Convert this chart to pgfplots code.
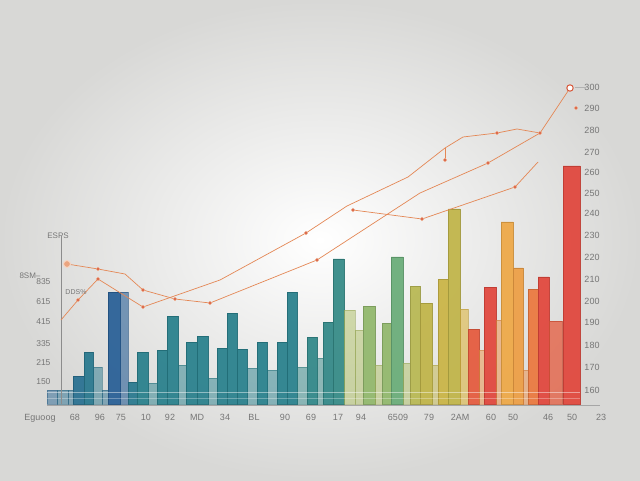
\documentclass[border=0pt]{standalone}
\usepackage{pgfplots}
\pgfplotsset{compat=1.18}
\usepackage{fontspec}
\setmainfont{Liberation Sans}
\definecolor{txt}{RGB}{118,118,118}
\definecolor{lin}{RGB}{228,135,85}
\definecolor{mk}{RGB}{215,85,55}
\definecolor{bg}{RGB}{216,216,214}
\definecolor{c0}{RGB}{40,95,150}
\definecolor{c1}{RGB}{40,112,145}
\definecolor{c2}{RGB}{40,128,140}
\definecolor{c3}{RGB}{60,145,130}
\definecolor{c4}{RGB}{105,172,120}
\definecolor{c5}{RGB}{172,190,98}
\definecolor{c6}{RGB}{192,180,72}
\definecolor{c7}{RGB}{218,180,65}
\definecolor{c8}{RGB}{238,168,70}
\definecolor{c9}{RGB}{235,120,62}
\definecolor{c10}{RGB}{225,70,60}
% bar: left edge, right edge, height, colour, opacity
\newcommand{\bb}[5]{\addplot[fill=#4, draw=#4!85!black, line width=0.3pt, fill opacity=#5, draw opacity=#5] coordinates {(#1,0) (#1,#3) (#2,#3) (#2,0)} \closedcycle;}
\def\L{0.5}
\def\D{0.93}
\begin{document}
\begin{tikzpicture}
\shade[inner color=white, outer color=bg] (0,0) rectangle (640pt,480pt);
\begin{axis}[at={(30pt,75pt)}, anchor=south west, scale only axis,
  width=580pt, height=331pt, xmin=30, xmax=610, ymin=-1, ymax=330,
  clip=false, axis x line*=bottom, axis y line*=right,
  x axis line style={draw=none},
  y axis line style={draw=none},
  major tick length=0pt,
  xtick={40,75,100,121,146,170,197,225,254,285,311,338,361,398,429,460,491,513,548,572,601},
  xticklabels={Eguoog,68,96,75,10,92,MD,34,BL,90,69,17,94,6509,79,2AM,60,50,46,50,23},
  xticklabel style={font=\fontsize{9}{10}\selectfont, text=txt, yshift=-6pt},
  ytick={14,37,59,82,103,125,147,169,191,211,232,252,274,296,317},
  yticklabels={160,170,180,190,200,210,220,230,240,250,260,270,280,290,300},
  yticklabel style={font=\fontsize{9}{10}\selectfont, text=txt, anchor=center, xshift=-18pt},
]
\bb{47}{57}{14}{c0!60!c1}{\L}
\bb{57}{68}{14}{c1}{\L}
\bb{68}{73}{14}{c1}{\L}
\bb{73}{84}{28}{c1}{\D}
\bb{84}{93}{52}{c1!50!c2}{\D}
\bb{93}{102}{37}{c1!50!c2}{\L}
\bb{102}{108}{14}{c1}{\L}
\bb{108}{120}{112}{c0}{\D}
\bb{120}{128}{112}{c0}{0.6}
\bb{128}{137}{22}{c1!50!c2}{\D}
\bb{137}{148}{52}{c2}{\D}
\bb{148}{157}{21}{c2}{\L}
\bb{157}{167}{54}{c2}{\D}
\bb{167}{178}{88}{c2}{\D}
\bb{178}{186}{39}{c2}{\L}
\bb{186}{197}{62}{c2}{\D}
\bb{197}{208}{68}{c2}{\D}
\bb{208}{217}{26}{c2}{\L}
\bb{217}{227}{56}{c2}{\D}
\bb{227}{237}{91}{c2}{\D}
\bb{237}{247}{55}{c2}{\D}
\bb{247}{257}{36}{c2}{\L}
\bb{257}{267}{62}{c2}{\D}
\bb{267}{277}{34}{c2}{\L}
\bb{277}{287}{62}{c2}{\D}
\bb{287}{297}{112}{c2}{\D}
\bb{297}{307}{37}{c2!60!c3}{\L}
\bb{307}{317}{67}{c2!60!c3}{\D}
\bb{317}{323}{46}{c2!50!c3}{\L}
\bb{323}{333}{82}{c2!50!c3}{\D}
\bb{333}{344}{145}{c2!40!c3}{\D}
\bb{344}{355}{94}{c5}{\L}
\bb{355}{363}{74}{c5}{\L}
\bb{363}{375}{98}{c5!60!c4}{\D}
\bb{375}{382}{39}{c5}{\L}
\bb{382}{391}{81}{c5!60!c4}{\D}
\bb{391}{403}{147}{c4}{\D}
\bb{403}{410}{41}{c5}{\L}
\bb{410}{420}{118}{c5!40!c6}{\D}
\bb{420}{432}{101}{c6}{\D}
\bb{432}{438}{39}{c6}{\L}
\bb{438}{448}{125}{c6!60!c7}{\D}
\bb{448}{460}{195}{c6}{\D}
\bb{460}{468}{95}{c7}{0.6}
\bb{468}{479}{75}{c9!40!c10}{\D}
\bb{479}{484}{54}{c8!50!c9}{\L}
\bb{484}{496}{117}{c10}{\D}
\bb{496}{501}{84}{c8!40!c9}{\L}
\bb{501}{513}{182}{c8}{\D}
\bb{513}{523}{136}{c8!80!c9}{\D}
\bb{523}{528}{34}{c8!40!c9}{\L}
\bb{528}{538}{115}{c9}{\D}
\bb{538}{549}{127}{c10}{\D}
\bb{549}{562}{83}{c9!40!c10}{0.75}
\bb{563}{580}{238}{c10}{\D}
\addplot[white, opacity=0.45, line width=0.6pt] coordinates {(47,12) (580,12)};
\addplot[white, opacity=0.3, line width=0.6pt] coordinates {(47,6) (580,6)};
\addplot[black!35, line width=0.8pt] coordinates {(47,-1) (600,-1)};
\addplot[black!45, line width=0.6pt] coordinates {(61,0) (61,168)};
% lines
\addplot[lin, line width=0.7pt] coordinates {(61,84) (78,104) (98,125) (143,97) (220,124) (306,171) (347,198) (408,227) (445,256) (463,267) (497,271) (517,275) (540,271) (570,316)};
\addplot[lin, line width=0.7pt] coordinates {(67,140) (98,135) (125,130) (143,114) (175,105) (210,101) (317,144) (420,211) (488,241) (540,271)};
\addplot[lin, line width=0.7pt] coordinates {(353,194) (422,185) (515,217) (538,242)};
\addplot[lin, line width=0.7pt] coordinates {(445,256) (445,244)};
\addplot[black!30, line width=0.5pt] coordinates {(575,317) (586,317)};
% markers
\addplot[only marks, mark=*, mark size=1.8pt, mark options={fill=mk, draw=lin!60, line width=0.6pt}] coordinates {(78,104) (98,125) (143,97) (306,171) (353,194) (497,271) (540,271) (98,135) (143,114) (175,105) (210,101) (317,144) (488,241) (422,185) (515,217) (445,244) (576,296)};
\addplot[only marks, mark=*, mark size=3.2pt, mark options={fill=white, draw=mk, line width=1pt}] coordinates {(570,316)};
\addplot[only marks, mark=*, mark size=3.5pt, mark options={fill=lin!75, draw=lin!35, line width=1pt}] coordinates {(67,140)};
% left axis texts
\node[font=\fontsize{8}{9}\selectfont, text=txt] at (axis cs:58,168) {ESPS};
\node[font=\fontsize{8}{9}\selectfont, text=txt] at (axis cs:30,128) {8SM--};
\node[font=\fontsize{7}{8}\selectfont, text=txt] at (axis cs:76,112) {DDS\%};
\node[font=\fontsize{8.5}{9}\selectfont, text=txt, anchor=east] at (axis cs:54,122) {835};
\node[font=\fontsize{8.5}{9}\selectfont, text=txt, anchor=east] at (axis cs:54,102) {615};
\node[font=\fontsize{8.5}{9}\selectfont, text=txt, anchor=east] at (axis cs:54,82) {415};
\node[font=\fontsize{8.5}{9}\selectfont, text=txt, anchor=east] at (axis cs:54,60) {335};
\node[font=\fontsize{8.5}{9}\selectfont, text=txt, anchor=east] at (axis cs:54,41) {215};
\node[font=\fontsize{8.5}{9}\selectfont, text=txt, anchor=east] at (axis cs:54,22) {150};
\end{axis}
\end{tikzpicture}
\end{document}
